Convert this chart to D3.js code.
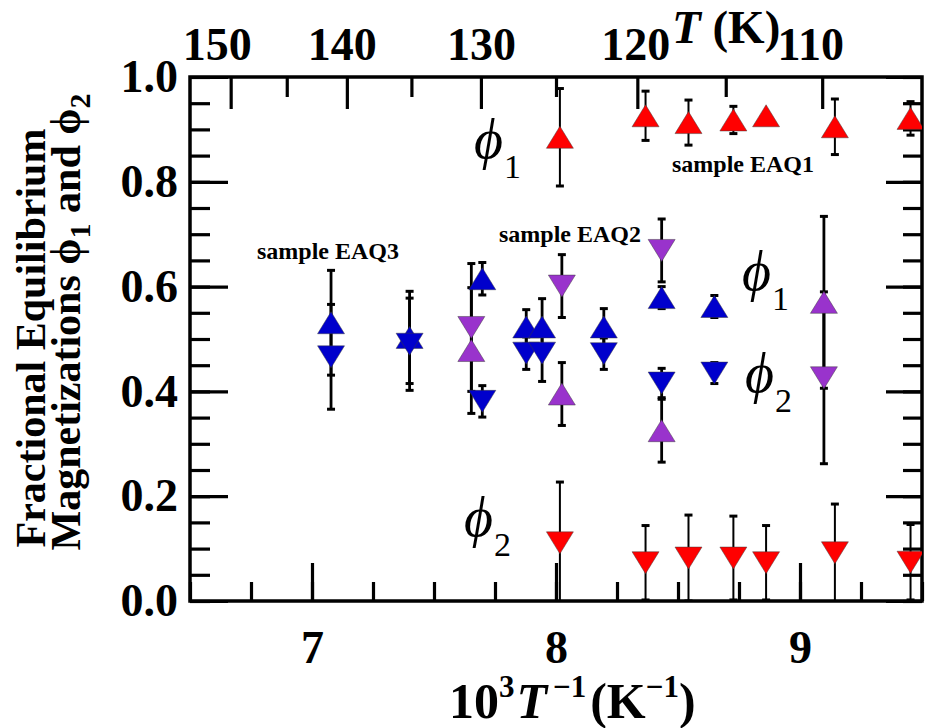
<!DOCTYPE html>
<html><head><meta charset="utf-8">
<script src="https://cdn.jsdelivr.net/npm/d3@7"></script>
<style>
body{margin:0;background:#fff}
svg{display:block}
text{font-family:"Liberation Serif","Times New Roman",serif;fill:#000}
</style>
</head><body>
<svg id="chart" width="925" height="728"></svg>
<script>
// ---------- data ----------
const xTickLabels = [7, 8, 9];
const yTickLabels = [0, 0.2, 0.4, 0.6, 0.8, 1.0];
const topTickLabels = [150, 140, 130, 120, 110];      // T (K)
const topMinorTicks = [145, 135, 125, 115];            // T (K)

// sample EAQ1 (red)
const redX      = [8.016, 8.367, 8.543, 8.727, 8.861, 9.143, 9.453];
const redPhi1   = [0.885, 0.926, 0.913, 0.918, 0.926, 0.905, 0.921];
const redPhi1Err= [0.093, 0.047, 0.043, 0.026, 0.005, 0.053, 0.032];
const redPhi2   = [0.111, 0.073, 0.082, 0.082, 0.073, 0.092, 0.074];
const redPhi2Err= [0.116, 0.071, 0.082, 0.080, 0.071, 0.093, 0.072];

// blue series
const blueX      = [7.078, 7.400, 7.698, 7.878, 7.943, 8.196, 8.433, 8.649];
const bluePhi1   = [0.531, 0.503, 0.615, 0.523, 0.523, 0.523, 0.579, 0.562];
const bluePhi1Err= [0.100, 0.088, 0.031, 0.033, 0.054, 0.035, 0.021, 0.021];
const bluePhi2   = [0.466, 0.490, 0.381, 0.473, 0.473, 0.472, 0.416, 0.435];
const bluePhi2Err= [0.100, 0.088, 0.030, 0.031, 0.054, 0.030, 0.028, 0.020];

// purple series
const purpleX      = [7.653, 8.024, 8.433, 9.098];
const purplePhi1   = [0.478, 0.395, 0.325, 0.570];
const purplePhi1Err= [0.120, 0.060, 0.060, 0.164];
const purplePhi2   = [0.522, 0.601, 0.669, 0.426];
const purplePhi2Err= [0.122, 0.060, 0.060, 0.164];

// ---------- layout ----------
const svg = d3.select("#chart");
const L = 190, R = 922, T = 77, B = 601;
const x = d3.scaleLinear().domain([6.5, 9.5]).range([L, R]);
const y = d3.scaleLinear().domain([0, 1]).range([B, T]);
const invT = t => 1000 / t;

const COL = {red: "#ff0000", blue: "#0000cc", purple: "#9933cc"};
const tickFont = "bold 46px 'Liberation Serif', serif";
const PHI = "\u03D5";

function styleAxis(g, w) {
  g.select(".domain").remove();
  g.selectAll(".tick line").attr("stroke", "#000").attr("stroke-width", w);
  g.selectAll(".tick text").style("font", tickFont).attr("fill", "#000");
}

// minor ticks
svg.append("g").attr("transform", `translate(${L},0)`)
  .call(d3.axisLeft(y).tickValues(d3.range(0, 1.0001, 0.05)).tickSize(-20).tickFormat(""))
  .call(g => styleAxis(g, 3.2));
svg.append("g").attr("transform", `translate(${R},0)`)
  .call(d3.axisRight(y).tickValues(d3.range(0, 1.0001, 0.05)).tickSize(-19).tickFormat(""))
  .call(g => styleAxis(g, 3.2));
svg.append("g").attr("transform", `translate(0,${B})`)
  .call(d3.axisBottom(x).tickValues(d3.range(6.5, 9.5001, 0.25)).tickSize(-19).tickFormat(""))
  .call(g => styleAxis(g, 3.2));
svg.append("g").attr("transform", `translate(0,${T})`)
  .call(d3.axisTop(x).tickValues(topMinorTicks.map(invT)).tickSize(-20).tickFormat(""))
  .call(g => styleAxis(g, 3.2));

// major ticks + labels
svg.append("g").attr("transform", `translate(${L},0)`)
  .call(d3.axisLeft(y).tickValues(yTickLabels).tickSize(-38).tickPadding(12).tickFormat(d3.format(".1f")))
  .call(g => styleAxis(g, 3.2));
svg.append("g").attr("transform", `translate(${R},0)`)
  .call(d3.axisRight(y).tickValues(yTickLabels).tickSize(-36).tickFormat(""))
  .call(g => styleAxis(g, 3.2));
svg.append("g").attr("transform", `translate(0,${B})`)
  .call(d3.axisBottom(x).tickValues(xTickLabels).tickSize(-38).tickPadding(29).tickFormat(d3.format("d")))
  .call(g => styleAxis(g, 3.2));
svg.append("g").attr("transform", `translate(0,${T})`)
  .call(d3.axisTop(x).tickValues(topTickLabels.map(invT)).tickSize(-32).tickPadding(17)
        .tickFormat(d => Math.round(1000 / d)))
  .call(g => styleAxis(g, 3.2))
  .call(g => g.selectAll(".tick text").attr("dx", (d, i) => [-14, -5, 0, -2, -12][i]));

// frame
svg.append("rect").attr("x", L).attr("y", T).attr("width", R - L).attr("height", B - T)
  .attr("fill", "none").attr("stroke", "#000").attr("stroke-width", 3.5);

// ---------- marks ----------
svg.append("clipPath").attr("id", "plotclip").append("rect")
  .attr("x", L).attr("y", T).attr("width", R - L).attr("height", B - T);
const plot = svg.append("g").attr("clip-path", "url(#plotclip)");
const barLayer = plot.append("g");
const symLayer = plot.append("g");

const TW = 27, TH = 22;
const triUp = {draw(c) { c.moveTo(0, -TH / 2); c.lineTo(TW / 2, TH / 2); c.lineTo(-TW / 2, TH / 2); c.closePath(); }};
const triDown = {draw(c) { c.moveTo(0, TH / 2); c.lineTo(TW / 2, -TH / 2); c.lineTo(-TW / 2, -TH / 2); c.closePath(); }};

function series(xs, vs, es, color, type, bw) {
  const data = xs.map((d, i) => ({x: d, v: vs[i], e: es[i]}));
  const gb = barLayer.append("g").attr("stroke", "#000");
  gb.selectAll("line.v").data(data).join("line")
    .attr("x1", d => x(d.x)).attr("x2", d => x(d.x))
    .attr("y1", d => y(d.v - d.e)).attr("y2", d => y(d.v + d.e))
    .attr("stroke-width", bw);
  [-1, 1].forEach(s => {
    gb.selectAll("line.c" + (s + 1)).data(data).join("line")
      .attr("x1", d => x(d.x) - 4).attr("x2", d => x(d.x) + 4)
      .attr("y1", d => y(d.v + s * d.e)).attr("y2", d => y(d.v + s * d.e))
      .attr("stroke-width", 3);
  });
  symLayer.append("g").selectAll("path").data(data).join("path")
    .attr("d", d3.symbol().type(type))
    .attr("transform", d => `translate(${x(d.x)},${y(d.v)})`)
    .attr("fill", color).attr("stroke", "rgba(60,60,60,0.6)").attr("stroke-width", 0.8);
}

series(redX, redPhi1, redPhi1Err, COL.red, triUp, 2);
series(redX, redPhi2, redPhi2Err, COL.red, triDown, 2);
series(blueX, bluePhi1, bluePhi1Err, COL.blue, triUp, 2.8);
series(blueX, bluePhi2, bluePhi2Err, COL.blue, triDown, 2.8);
series(purpleX, purplePhi1, purplePhi1Err, COL.purple, triUp, 2.8);
series(purpleX, purplePhi2, purplePhi2Err, COL.purple, triDown, 2.8);

// ---------- annotations ----------
function phiLabel(px, py, sub) {
  const t = svg.append("text").attr("x", px).attr("y", py);
  t.append("tspan").text(PHI).style("font", "italic 56px 'Liberation Serif', 'DejaVu Serif', serif");
  t.append("tspan").text(sub).attr("dy", 20).attr("dx", 1).style("font", "34px 'Liberation Serif', serif");
}
phiLabel(474, 158, "1");
phiLabel(464, 536, "2");
phiLabel(742, 290, "1");
phiLabel(745, 392, "2");

const sampFont = "bold 24px 'Liberation Serif', serif";
svg.append("text").attr("x", 672).attr("y", 172).style("font", sampFont).text("sample EAQ1");
svg.append("text").attr("x", 499).attr("y", 242).style("font", sampFont).text("sample EAQ2");
svg.append("text").attr("x", 257).attr("y", 259).style("font", sampFont).text("sample EAQ3");

// top title T (K)
const tt = svg.append("text").attr("x", 672).attr("y", 43).style("font", "bold 47px 'Liberation Serif', serif");
tt.append("tspan").text("T").style("font-style", "italic");
tt.append("tspan").text(" (K)");

// bottom title 10^3 T^-1 (K^-1)
const bt = svg.append("text").attr("x", 449).attr("y", 718).style("font", "bold 50px 'Liberation Serif', serif");
bt.append("tspan").text("10");
bt.append("tspan").text("3").attr("dy", -21).style("font-size", "31px");
bt.append("tspan").text("T").attr("dy", 21).attr("dx", 2).style("font-style", "italic");
bt.append("tspan").text("\u22121").attr("dy", -21).attr("dx", 6).style("font-size", "31px");
bt.append("tspan").text("(K").attr("dy", 21).attr("dx", 4);
bt.append("tspan").text("\u22121").attr("dy", -21).style("font-size", "31px");
bt.append("tspan").text(")").attr("dy", 21);

// left title (two lines, rotated)
const yFont = "bold 42px 'Liberation Serif', serif";
svg.append("text").attr("transform", "translate(45,338) rotate(-90)")
  .attr("text-anchor", "middle").style("font", yFont).text("Fractional Equilibrium");
const l2 = svg.append("text").attr("transform", "translate(80,322) rotate(-90)")
  .attr("text-anchor", "middle").style("font", yFont);
l2.append("tspan").text("Magnetizations ");
l2.append("tspan").text(PHI).style("font-family", "'Liberation Serif','DejaVu Serif',serif");
l2.append("tspan").text("1").attr("dy", 10).style("font-size", "30px");
l2.append("tspan").text(" and ").attr("dy", -10);
l2.append("tspan").text(PHI).style("font-family", "'Liberation Serif','DejaVu Serif',serif");
l2.append("tspan").text("2").attr("dy", 10).style("font-size", "30px");
</script>
</body></html>
